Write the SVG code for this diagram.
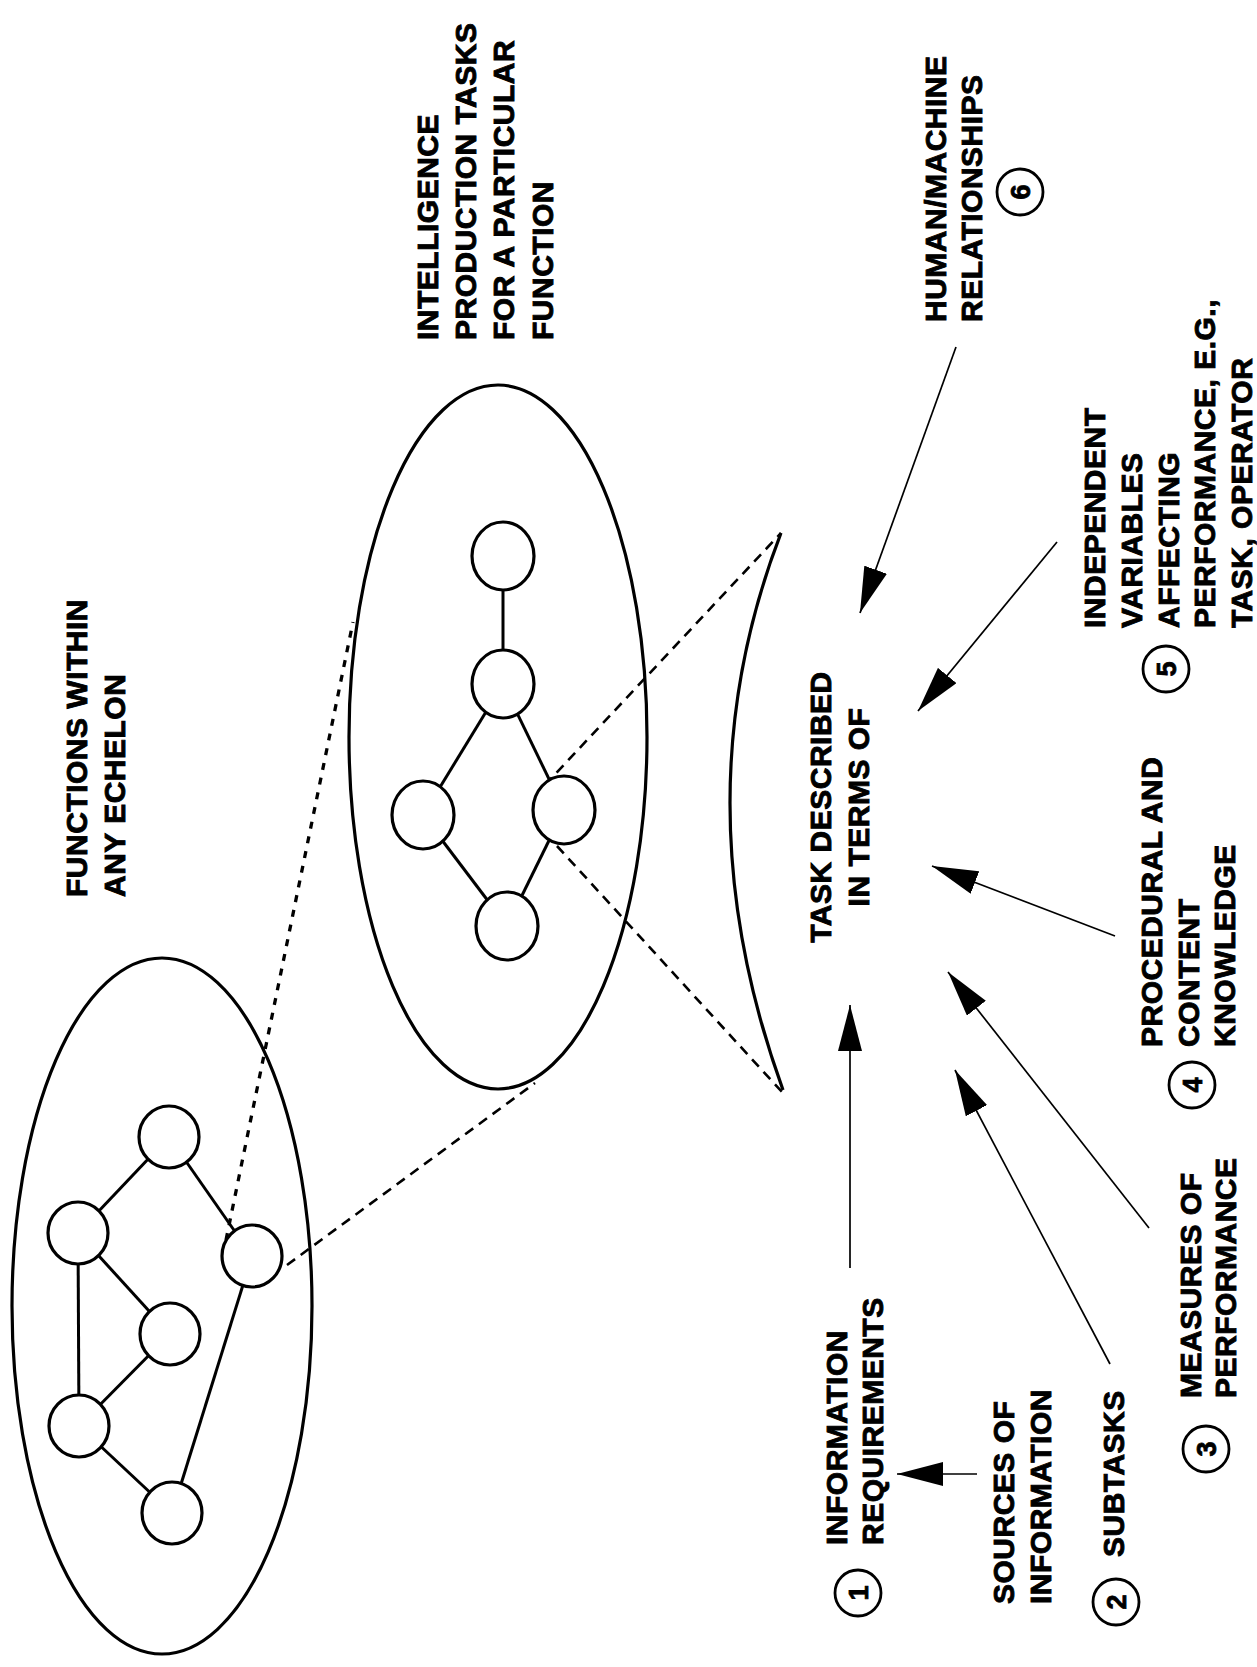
<svg xmlns="http://www.w3.org/2000/svg" width="1257" height="1667" viewBox="0 0 1257 1667">
<defs>
<style>
.big{fill:none;stroke:#000;stroke-width:3.2}
.node{fill:#fff;stroke:#000;stroke-width:3.2}
.edge{stroke:#000;stroke-width:3;fill:none}
.dot{stroke:#000;stroke-width:3.3;stroke-dasharray:7 8;fill:none}
.dash{stroke:#000;stroke-width:2.6;stroke-dasharray:10 7;fill:none}
.arr{stroke:#000;stroke-width:1.7;fill:none;marker-end:url(#ah)}
.lbl{font-family:"Liberation Sans",Arial,sans-serif;font-weight:bold;font-size:30px;letter-spacing:0.5px;fill:#000;stroke:#000;stroke-width:0.9}
.num{font-family:"Liberation Sans",Arial,sans-serif;font-weight:bold;font-size:27px;fill:#000;stroke:#000;stroke-width:0.8;text-anchor:middle}
.nc{fill:#fff;stroke:#000;stroke-width:2.8}
</style>
<marker id="ah" viewBox="0 0 46 24" refX="46" refY="12" markerWidth="46" markerHeight="24" markerUnits="userSpaceOnUse" orient="auto">
<path d="M0,0 L46,12 L0,24 Z" fill="#000"/>
</marker>
</defs>
<rect width="1257" height="1667" fill="#fff"/>

<g id="echelon-ellipse"><ellipse class="big" cx="162" cy="1306" rx="150" ry="348"/></g>
<g id="function-ellipse"><ellipse class="big" cx="498" cy="737" rx="149" ry="352"/></g>

<g id="connectors">
<line class="edge" x1="169" y1="1137" x2="78" y2="1233"/>
<line class="edge" x1="169" y1="1137" x2="252" y2="1256"/>
<line class="edge" x1="78" y1="1233" x2="170" y2="1334"/>
<line class="edge" x1="78" y1="1233" x2="79" y2="1426"/>
<line class="edge" x1="170" y1="1334" x2="79" y2="1426"/>
<line class="edge" x1="79" y1="1426" x2="172" y2="1513"/>
<line class="edge" x1="252" y1="1256" x2="172" y2="1513"/>
<line class="edge" x1="503" y1="556" x2="503" y2="684"/>
<line class="edge" x1="503" y1="684" x2="423" y2="815"/>
<line class="edge" x1="503" y1="684" x2="564" y2="810"/>
<line class="edge" x1="423" y1="815" x2="507" y2="926"/>
<line class="edge" x1="564" y1="810" x2="507" y2="926"/>
<line class="dot" x1="226" y1="1240" x2="353" y2="622"/>
<line class="dash" x1="287" y1="1265" x2="535" y2="1083"/>
<line class="dash" x1="545" y1="785" x2="781" y2="533"/>
<line class="dash" x1="557" y1="846" x2="782" y2="1092"/>
<path class="big" d="M781,533 Q678,800 783,1090"/>
<line class="arr" x1="850" y1="1268" x2="850" y2="1005"/>
<line class="arr" x1="977" y1="1474" x2="897" y2="1474"/>
<line class="arr" x1="1110" y1="1364" x2="955" y2="1070"/>
<line class="arr" x1="1149" y1="1228" x2="948" y2="972"/>
<line class="arr" x1="1115" y1="936" x2="932" y2="866"/>
<line class="arr" x1="1057" y1="542" x2="918" y2="711"/>
<line class="arr" x1="956" y1="347" x2="860" y2="613"/>
</g>

<g id="n1"><ellipse class="node" cx="169" cy="1137" rx="30" ry="31"/></g>
<g id="n2"><ellipse class="node" cx="78" cy="1233" rx="30" ry="31"/></g>
<g id="n3"><ellipse class="node" cx="252" cy="1256" rx="30" ry="31"/></g>
<g id="n4"><ellipse class="node" cx="170" cy="1334" rx="30" ry="31"/></g>
<g id="n5"><ellipse class="node" cx="79" cy="1426" rx="30" ry="31"/></g>
<g id="n6"><ellipse class="node" cx="172" cy="1513" rx="30" ry="31"/></g>

<g id="m1"><ellipse class="node" cx="503" cy="556" rx="31" ry="34"/></g>
<g id="m2"><ellipse class="node" cx="503" cy="684" rx="31" ry="34"/></g>
<g id="m3"><ellipse class="node" cx="423" cy="815" rx="31" ry="34"/></g>
<g id="m4"><ellipse class="node" cx="564" cy="810" rx="31" ry="34"/></g>
<g id="m5"><ellipse class="node" cx="507" cy="926" rx="31" ry="34"/></g>

<g id="label-functions">
<text class="lbl" transform="translate(87,897) rotate(-90)"><tspan x="0" y="0">FUNCTIONS WITHIN</tspan><tspan x="0" y="38">ANY ECHELON</tspan></text>
</g>
<g id="label-intelligence">
<text class="lbl" transform="translate(438,340) rotate(-90)"><tspan x="0" y="0">INTELLIGENCE</tspan><tspan x="0" y="37.5">PRODUCTION TASKS</tspan><tspan x="0" y="76">FOR A PARTICULAR</tspan><tspan x="0" y="115">FUNCTION</tspan></text>
</g>
<g id="label-task">
<text class="lbl" text-anchor="middle" transform="translate(831,807) rotate(-90)"><tspan x="0" y="0">TASK DESCRIBED</tspan><tspan x="0" y="38">IN TERMS OF</tspan></text>
</g>
<g id="label-human">
<text class="lbl" transform="translate(946,322) rotate(-90)"><tspan x="0" y="0">HUMAN/MACHINE</tspan><tspan x="0" y="36">RELATIONSHIPS</tspan></text>
<circle class="nc" cx="1020" cy="192" r="23"/>
<text class="num" transform="translate(1020,192) rotate(-90)" y="9.5">6</text>
</g>
<g id="label-independent">
<text class="lbl" transform="translate(1105,628) rotate(-90)"><tspan x="0" y="0">INDEPENDENT</tspan><tspan x="0" y="36.5">VARIABLES</tspan><tspan x="0" y="73.5">AFFECTING</tspan><tspan x="0" y="110">PERFORMANCE, E.G.,</tspan><tspan x="0" y="147">TASK, OPERATOR</tspan></text>
<circle class="nc" cx="1166" cy="669" r="23"/>
<text class="num" transform="translate(1166,669) rotate(-90)" y="9.5">5</text>
</g>
<g id="label-procedural">
<text class="lbl" transform="translate(1162,1047) rotate(-90)"><tspan x="0" y="0">PROCEDURAL AND</tspan><tspan x="0" y="36.5">CONTENT</tspan><tspan x="0" y="73">KNOWLEDGE</tspan></text>
<circle class="nc" cx="1192" cy="1085" r="23"/>
<text class="num" transform="translate(1192,1085) rotate(-90)" y="9.5">4</text>
</g>
<g id="label-measures">
<text class="lbl" transform="translate(1201,1398) rotate(-90)"><tspan x="0" y="0">MEASURES OF</tspan><tspan x="0" y="35">PERFORMANCE</tspan></text>
<circle class="nc" cx="1206" cy="1449" r="23"/>
<text class="num" transform="translate(1206,1449) rotate(-90)" y="9.5">3</text>
</g>
<g id="label-subtasks">
<text class="lbl" transform="translate(1124,1557) rotate(-90)">SUBTASKS</text>
<circle class="nc" cx="1116" cy="1602" r="23"/>
<text class="num" transform="translate(1116,1602) rotate(-90)" y="9.5">2</text>
</g>
<g id="label-sources">
<text class="lbl" transform="translate(1014,1604) rotate(-90)"><tspan x="0" y="0">SOURCES OF</tspan><tspan x="0" y="37">INFORMATION</tspan></text>
</g>
<g id="label-information">
<text class="lbl" transform="translate(847,1545) rotate(-90)"><tspan x="0" y="0">INFORMATION</tspan><tspan x="0" y="36">REQUIREMENTS</tspan></text>
<circle class="nc" cx="858" cy="1593" r="23"/>
<text class="num" transform="translate(858,1593) rotate(-90)" y="9.5">1</text>
</g>
</svg>
